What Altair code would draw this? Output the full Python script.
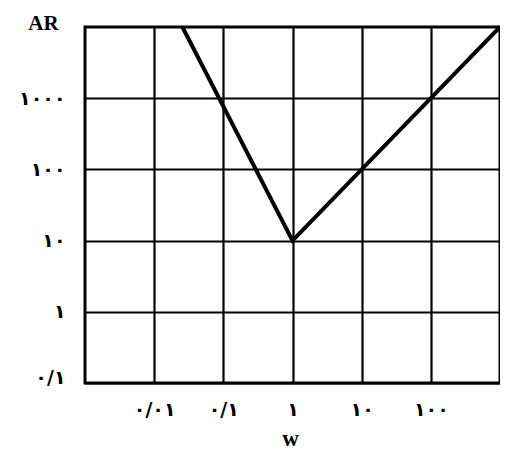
import altair as alt
import pandas as pd

# data: asymptotic V-shaped line on log-log axes
w_vals = [0.0256, 1, 1000]
ar_vals = [10000, 10, 10000]

x_ticks = [0.01, 0.1, 1, 10, 100]
x_labels = ["۰/۰۱", "۰/۱", "۱", "۱۰", "۱۰۰"]
y_ticks = [0.1, 1, 10, 100, 1000]
y_labels = ["۰/۱", "۱", "۱۰", "۱۰۰", "۱۰۰۰"]

df = pd.DataFrame({"w": w_vals, "AR": ar_vals})


def label_expr(ticks, labels):
    arr = "[" + ",".join("'" + l + "'" for l in labels) + "]"
    vals = "[" + ",".join(repr(t) for t in ticks) + "]"
    return arr + "[indexof(" + vals + ", datum.value)]"


label_font = "DejaVu Sans"
title_font = "Liberation Serif"

chart = (
    alt.Chart(df)
    .mark_line(color="black", strokeWidth=4, clip=False)
    .encode(
        x=alt.X(
            "w:Q",
            scale=alt.Scale(type="log", domain=[0.001, 1000], nice=False),
            axis=alt.Axis(
                values=x_ticks,
                labelExpr=label_expr(x_ticks, x_labels),
                title="w",
                titleFont=title_font,
                titleFontSize=23,
                titleFontWeight="bold",
                titleColor="black",
                titleX=205,
                titleY=55,
                titleBaseline="middle",
                titleAlign="center",
                labelFont=label_font,
                labelFontSize=19,
                labelFontWeight="bold",
                labelColor="black",
                labelPadding=17,
                labelBaseline="top",
                ticks=False,
                domain=False,
                grid=True,
                gridColor="black",
                gridWidth=2.2,
                gridOpacity=1,
            ),
        ),
        y=alt.Y(
            "AR:Q",
            scale=alt.Scale(type="log", domain=[0.1, 10000], nice=False),
            axis=alt.Axis(
                values=y_ticks,
                labelExpr=label_expr(y_ticks, y_labels),
                title="AR",
                titleFont=title_font,
                titleFontSize=21,
                titleFontWeight="bold",
                titleColor="black",
                titleAngle=0,
                titleAlign="center",
                titleBaseline="middle",
                titleX=-42,
                titleY=-4,
                labelFont=label_font,
                labelFontSize=19,
                labelFontWeight="bold",
                labelColor="black",
                labelPadding=20,
                labelAlign="right",
                labelBaseline="middle",
                labelOffset={"condition": {"test": "datum.value < 0.5", "value": -6}, "value": 0},
                ticks=False,
                domain=False,
                grid=True,
                gridColor="black",
                gridWidth=2.2,
                gridOpacity=1,
            ),
        ),
    )
    .properties(
        width=415,
        height=356,
        autosize="none",
        padding={"left": 77, "top": 19, "right": 0, "bottom": 70},
        background="white",
    )
    .configure_view(stroke="black", strokeWidth=3)
)

chart.save("out.html", embed_options={"renderer": "svg", "actions": False})
